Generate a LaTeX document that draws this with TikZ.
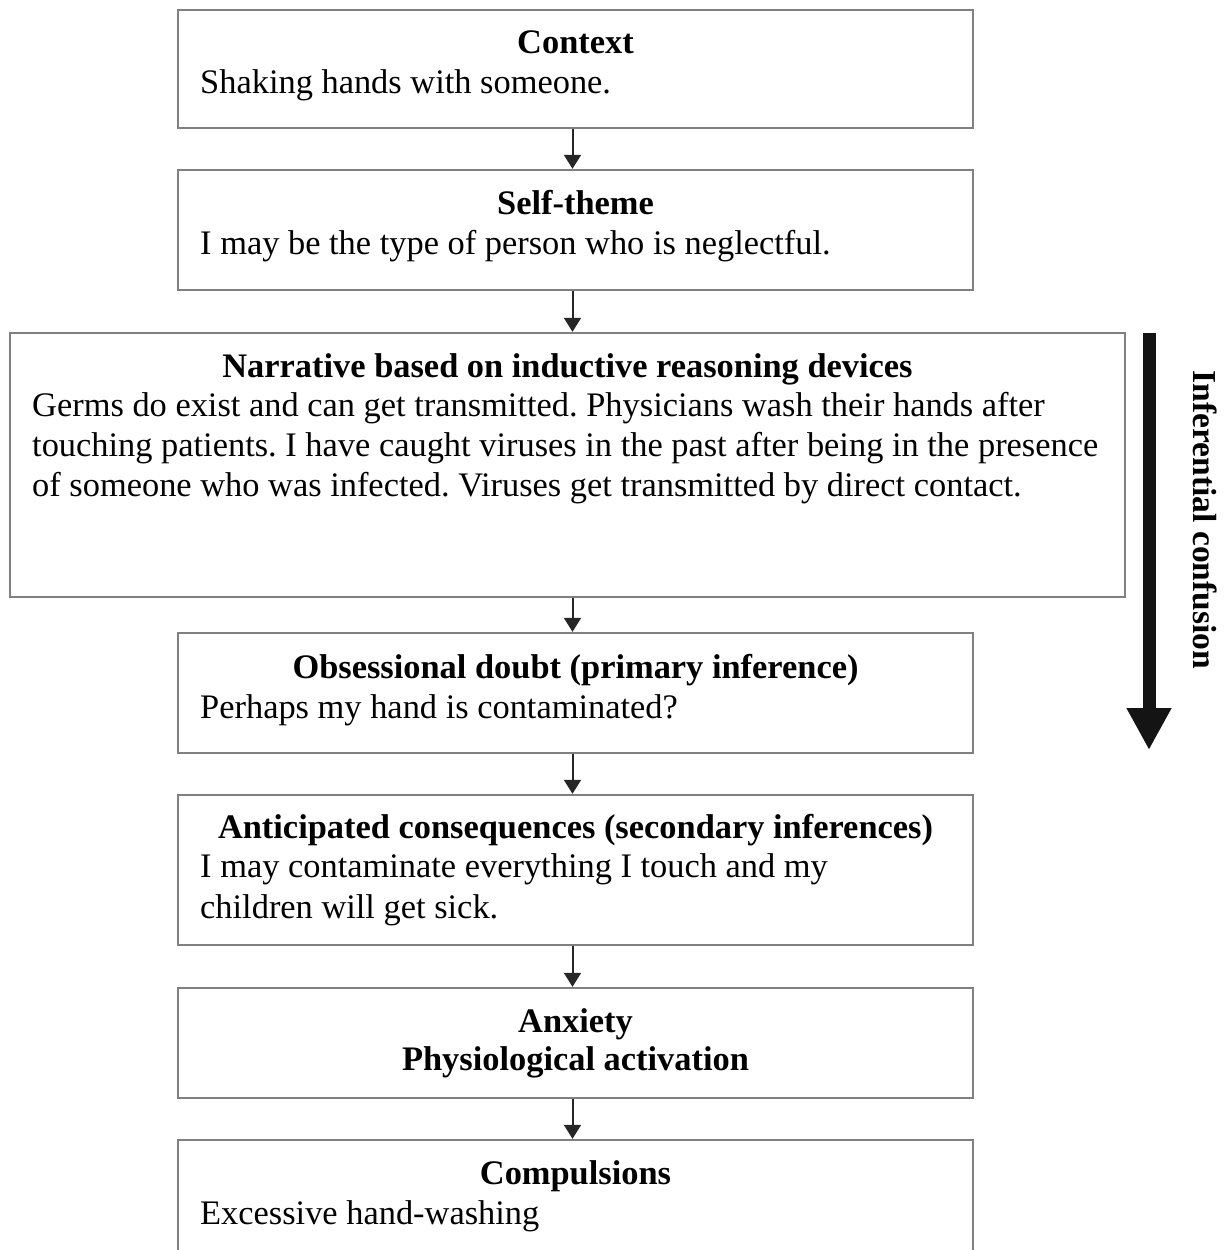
\documentclass[tikz,border=0pt]{standalone}
\usepackage{fontspec}
\setmainfont{Liberation Serif}
\usetikzlibrary{arrows.meta}
\definecolor{boxgray}{RGB}{128,128,128}
\frenchspacing
\begin{document}
\begin{tikzpicture}[x=1pt,y=-1pt,
  box/.style={draw=boxgray, line width=2.4pt, rectangle, inner sep=0pt, fill=white},
  flow/.style={-{Triangle[length=14pt,width=17pt]}, line width=2pt, draw=black!85},
  ttl/.style={font=\fontsize{34.4}{40}\selectfont\bfseries, anchor=base, inner sep=0pt},
  txt/.style={font=\fontsize{34.4}{40}\selectfont, anchor=base west, inner sep=0pt}]
\clip (0,0) rectangle (1228,1250);
\fill[white] (0,0) rectangle (1228,1250);

% boxes
\node[box, minimum width=795pt, minimum height=118pt] (ctx)  at (575.5,69) {};
\node[box, minimum width=795pt, minimum height=120pt] (self) at (575.5,230) {};
\node[box, minimum width=1115pt, minimum height=264pt] (narr) at (567.5,465) {};
\node[box, minimum width=795pt, minimum height=120pt] (obs)  at (575.5,693) {};
\node[box, minimum width=795pt, minimum height=150pt] (ant)  at (575.5,870) {};
\node[box, minimum width=795pt, minimum height=110pt] (anx)  at (575.5,1043) {};
\node[box, minimum width=795pt, minimum height=160pt] (comp) at (575.5,1220) {};

% texts
\node[ttl] (ctxT) at (575.5,53) {Context};
\node[txt] (ctxB) at (200,93) {Shaking hands with someone.};

\node[ttl] (selfT) at (575.5,214) {Self-theme};
\node[txt] (selfB) at (200,254) {I may be the type of person who is neglectful.};

\node[ttl] (narrT) at (567.5,377) {Narrative based on inductive reasoning devices};
\node[txt] (narrB1) at (32,416) {Germs do exist and can get transmitted. Physicians wash their hands after};
\node[txt] (narrB2) at (32,456) {touching patients. I have caught viruses in the past after being in the presence};
\node[txt] (narrB3) at (32,496) {of someone who was infected. Viruses get transmitted by direct contact.};

\node[ttl] (obsT) at (575.5,678) {Obsessional doubt (primary inference)};
\node[txt] (obsB) at (200,718) {Perhaps my hand is contaminated?};

\node[ttl] (antT) at (575.5,838) {Anticipated consequences (secondary inferences)};
\node[txt] (antB1) at (200,877) {I may contaminate everything I touch and my};
\node[txt] (antB2) at (200,918) {children will get sick.};

\node[ttl] (anxT) at (575.5,1032) {Anxiety};
\node[ttl] (anxT2) at (575.5,1070) {Physiological activation};

\node[ttl] (compT) at (575.5,1184) {Compulsions};
\node[txt] (compB) at (200,1224) {Excessive hand-washing};

% connectors
\coordinate (ax) at (572.5,0);
\draw[flow] (ctx.south -| ax) -- (self.north -| ax);
\draw[flow] (self.south -| ax) -- (narr.north -| ax);
\draw[flow] (narr.south -| ax) -- (obs.north -| ax);
\draw[flow] (obs.south -| ax) -- (ant.north -| ax);
\draw[flow] (ant.south -| ax) -- (anx.north -| ax);
\draw[flow] (anx.south -| ax) -- (comp.north -| ax);

% inferential confusion arrow
\coordinate (bigS) at (1149,333);
\coordinate (bigE) at (1149,750);
\draw[line width=13pt, draw=black!92, -{Triangle[length=42pt,width=42pt]}] (bigS) -- (bigE);
\node[font=\fontsize{33.5}{38}\selectfont\bfseries, rotate=-90, inner sep=0pt] (ic) at (1205,520) {Inferential confusion};
\end{tikzpicture}
\end{document}
